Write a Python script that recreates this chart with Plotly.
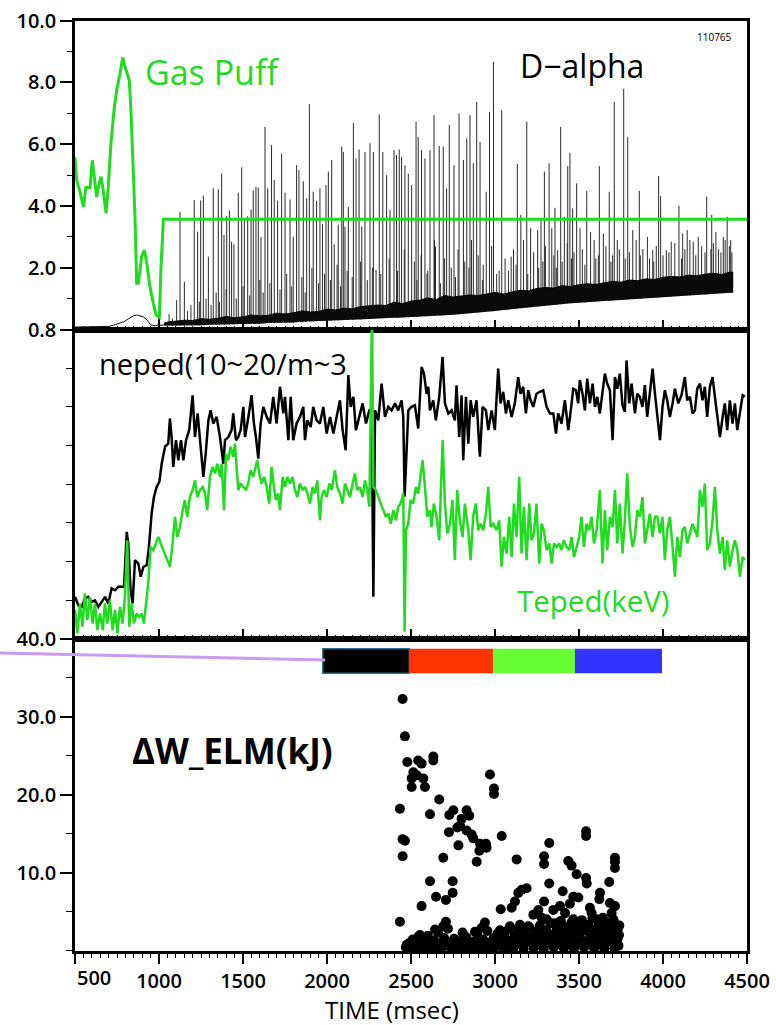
import plotly.graph_objects as go

# ---------------- DATA ----------------
# Panel 1: gas puff (green)
gas_t = [500, 510, 530, 550, 565, 590, 603, 615, 629, 639, 655, 668, 685, 698, 714, 732, 748, 768, 784, 798, 814, 823, 833, 847, 857, 867, 877, 897, 913, 927, 946, 966, 983, 1002, 1012, 1026, 4500]
gas_v = [5.58, 4.84, 4.45, 3.97, 4.6, 4.6, 5.48, 4.95, 4.3, 4.62, 4.95, 4.51, 3.76, 4.62, 6.03, 7.1, 7.75, 8.29, 8.81, 8.5, 8.2, 8.07, 7.1, 5.27, 3.65, 1.5, 1.5, 2.36, 2.57, 2.14, 1.39, 0.85, 0.47, 0.41, 2.03, 3.57, 3.57]

# D-alpha before the ELMs
dpre_t = [500, 600, 700, 730, 760, 790, 820, 850, 870, 890, 910, 930, 950, 980, 995, 1000, 1005, 1030]
dpre_v = [0.08, 0.1, 0.1, 0.14, 0.2, 0.25, 0.35, 0.45, 0.47, 0.44, 0.4, 0.3, 0.15, 0.12, 0.15, 0.42, 0.13, 0.15]

# D-alpha noisy baseline band (lower / upper edge)
band_t = [1030, 1050, 1100, 1150, 1200, 1250, 1300, 1350, 1400, 1450, 1500, 1550, 1600, 1650, 1700, 1750, 1800, 1850, 1900, 1950,
          2000, 2050, 2100, 2150, 2200, 2250, 2300, 2350, 2400, 2450, 2500, 2550, 2600, 2650, 2700, 2750, 2800, 2850, 2900, 2950,
          3000, 3050, 3100, 3150, 3200, 3250, 3300, 3350, 3400, 3450, 3500, 3550, 3600, 3650, 3700, 3750, 3800, 3850, 3900, 3950,
          4000, 4050, 4100, 4150, 4200, 4250, 4300, 4350, 4400, 4418]
band_lo = [0.12, 0.12, 0.13, 0.12, 0.14, 0.14, 0.15, 0.15, 0.16, 0.17, 0.18, 0.18, 0.19, 0.21, 0.21, 0.22, 0.23, 0.25, 0.26, 0.26,
           0.28, 0.29, 0.30, 0.32, 0.33, 0.34, 0.36, 0.36, 0.38, 0.39, 0.40, 0.42, 0.43, 0.44, 0.46, 0.48, 0.50, 0.52, 0.55, 0.57,
           0.60, 0.63, 0.66, 0.69, 0.72, 0.75, 0.78, 0.80, 0.83, 0.85, 0.87, 0.88, 0.90, 0.92, 0.94, 0.96, 0.98, 1.00, 1.02, 1.03,
           1.05, 1.06, 1.08, 1.10, 1.12, 1.13, 1.15, 1.16, 1.18, 1.20]
band_hi = [0.20, 0.24, 0.27, 0.30, 0.29, 0.35, 0.33, 0.36, 0.42, 0.38, 0.41, 0.47, 0.44, 0.46, 0.53, 0.50, 0.54, 0.60, 0.57, 0.58,
           0.66, 0.63, 0.69, 0.67, 0.74, 0.76, 0.79, 0.78, 0.88, 0.84, 0.92, 0.95, 1.02, 0.97, 1.10, 1.05, 1.08, 1.12, 1.10, 1.16,
           1.20, 1.15, 1.22, 1.27, 1.25, 1.33, 1.36, 1.34, 1.42, 1.39, 1.45, 1.48, 1.46, 1.52, 1.56, 1.53, 1.60, 1.58, 1.64, 1.62,
           1.69, 1.72, 1.70, 1.76, 1.74, 1.79, 1.82, 1.78, 1.86, 1.85]

# D-alpha ELM spikes (time, peak)
spike_t = [1105, 1125, 1151, 1210, 1230, 1248, 1264, 1294, 1323, 1353, 1373, 1387, 1403, 1419, 1432, 1446, 1472, 1492, 1508, 1528,
           1548, 1561, 1577, 1591, 1607, 1631, 1647, 1670, 1686, 1706, 1730, 1750, 1780, 1799, 1819, 1833, 1859, 1879, 1895, 1918,
           1938, 1958, 1973, 1994, 2008, 2028, 2043, 2067, 2088, 2097, 2107, 2127, 2157, 2173, 2191, 2207, 2226, 2256, 2276, 2292,
           2311, 2332, 2355, 2375, 2399, 2414, 2430, 2444, 2464, 2484, 2504, 2530, 2543, 2563, 2583, 2613, 2637, 2646, 2668, 2692,
           2712, 2728, 2756, 2786, 2812, 2832, 2851, 2871, 2891, 2911, 2948, 2967, 2991, 3040, 3096, 3133, 3154, 3189, 3212, 3254,
           3274, 3294, 3322, 3338, 3357, 3373, 3391, 3413, 3433, 3446, 3462, 3486, 3506, 3546, 3569, 3621, 3645, 3680, 3710, 3728,
           3766, 3790, 3820, 3859, 3907, 3939, 3974, 3986, 4020, 4049, 4095, 4117, 4144, 4180, 4210, 4260, 4290, 4315, 4359, 4382, 4403]
spike_v = [0.95, 3.81, 1.55, 4.19, 3.17, 4.18, 4.34, 2.36, 4.57, 4.54, 5.05, 3.06, 3.67, 3.85, 2.84, 2.76, 4.43, 5.25, 3.54, 3.67,
           3.89, 4.51, 4.62, 4.59, 3.0, 6.56, 4.57, 5.97, 4.84, 4.17, 5.70, 4.43, 4.21, 3.0, 5.32, 5.16, 4.8, 4.25, 7.3, 4.46,
           4.17, 4.57, 3.41, 4.68, 5.11, 5.49, 2.76, 3.4, 5.92, 5.75, 3.33, 3.97, 6.69, 5.54, 5.83, 3.33, 5.75, 6.03, 5.75, 1.93,
           6.97, 5.75, 5.0, 3.87, 5.81, 5.65, 5.83, 5.59, 5.32, 5.05, 4.68, 6.73, 6.24, 5.81, 5.54, 5.81, 6.94, 2.68, 5.94, 5.92,
           4.57, 6.62, 5.32, 7.0, 5.49, 6.19, 6.94, 5.38, 7.37, 6.08, 4.46, 7.05, 8.67, 7.1, 2.36, 5.36, 3.71, 6.73, 3.28, 3.22,
           3.54, 5.11, 5.38, 3.28, 3.94, 2.57, 6.56, 3.65, 5.29, 5.72, 3.92, 4.73, 3.28, 4.49, 3.16, 5.29, 3.11, 4.46, 7.37, 2.9,
           7.8, 6.24, 3.22, 4.49, 3.0, 2.57, 4.97, 4.32, 2.57, 2.84, 4.01, 3.11, 3.22, 2.84, 3.0, 4.3, 3.71, 3.16, 3.0, 3.65, 2.9]
# smaller D-alpha bursts
small_t = [1060, 1080, 1170, 1190, 1240, 1280, 1310, 1340, 1360, 1400, 1460, 1500, 1540, 1600, 1620, 1660, 1720, 1760, 1790, 1850,
           1870, 1910, 1950, 1985, 2020, 2060, 2080, 2120, 2150, 2200, 2240, 2270, 2320, 2370, 2420, 2460, 2520, 2560, 2600, 2640,
           2700, 2740, 2780, 2820, 2860, 2900, 2930, 2980, 3010, 3060, 3080, 3110, 3170, 3230, 3260, 3300, 3350, 3400, 3430, 3470,
           3520, 3590, 3600, 3660, 3700, 3740, 3800, 3840, 3880, 3920, 3960, 4000, 4070, 4130, 4160, 4230, 4250, 4300, 4330, 4370, 4395, 4410,
           2535, 2595, 2675, 2765, 2845, 2925, 3025, 3125, 3195, 3285, 3365, 3455, 3535, 3615, 3690, 3775, 3865, 3945, 4035, 4110, 4195, 4285, 4345]
small_v = [0.5, 0.35, 0.6, 0.8, 0.9, 1.0, 0.8, 1.2, 0.9, 1.3, 1.0, 1.4, 1.1, 1.6, 1.2, 1.5, 1.3, 1.8, 1.4, 1.7,
           1.2, 2.0, 1.5, 1.8, 1.6, 2.1, 1.4, 1.9, 1.7, 2.2, 1.6, 2.0, 1.8, 2.3, 1.9, 2.6, 2.2, 2.4, 1.9, 2.9,
           2.3, 2.0, 2.6, 2.2, 2.9, 2.4, 2.1, 2.7, 1.8, 2.3, 1.9, 2.6, 2.9, 2.5, 2.0, 2.7, 2.4, 2.2, 2.8, 2.5,
           2.6, 2.9, 2.3, 2.7, 2.4, 2.6, 2.5, 2.9, 2.6, 2.3, 2.7, 2.4, 2.8, 2.6, 2.9, 2.7, 2.5, 2.8, 2.6, 2.9, 2.7, 2.5,
           1.6, 1.8, 1.5, 1.7, 2.0, 1.6, 1.9, 2.1, 1.8, 2.2, 2.0, 2.3, 2.1, 2.4, 2.2, 2.3, 2.4, 2.2, 2.5, 2.3, 2.4, 2.6, 2.5]

# Panel 2: neped (black) and Teped (green)
neped_t = [500, 520, 540, 559, 579, 599, 619, 639, 659, 679, 698, 718, 738, 758, 778, 792, 808, 817, 831, 843, 857, 877, 891, 907, 927,
           940, 956, 970, 986, 1002, 1016, 1036, 1055, 1065, 1075, 1085, 1101, 1115, 1131, 1145, 1161, 1180, 1200, 1214, 1230, 1244,
           1264, 1278, 1294, 1307, 1323, 1343, 1363, 1383, 1393, 1413, 1432, 1442, 1458, 1472, 1486, 1502, 1512, 1532, 1551, 1565,
           1577, 1591, 1605, 1621, 1641, 1661, 1680, 1700, 1720, 1740, 1750, 1770, 1784, 1799, 1819, 1839, 1859, 1869, 1883, 1903,
           1918, 1938, 1958, 1978, 1998, 2018, 2038, 2057, 2077, 2093, 2111, 2127, 2141, 2157, 2172, 2192, 2212, 2232, 2252, 2266,
           2276, 2286, 2305, 2325, 2345, 2365, 2385, 2405, 2424, 2444, 2454, 2462, 2484, 2503, 2523, 2543, 2563, 2577, 2593, 2603,
           2613, 2632, 2648, 2668, 2688, 2702, 2722, 2742, 2761, 2771, 2787, 2801, 2811, 2827, 2841, 2855, 2870, 2890, 2910, 2926,
           2946, 2960, 2980, 2999, 3019, 3033, 3049, 3065, 3079, 3099, 3118, 3138, 3152, 3168, 3184, 3198, 3212, 3228, 3247, 3267,
           3287, 3307, 3327, 3347, 3363, 3376, 3396, 3416, 3436, 3450, 3466, 3482, 3495, 3505, 3521, 3535, 3549, 3565, 3581, 3595,
           3609, 3624, 3640, 3654, 3668, 3684, 3700, 3714, 3728, 3743, 3759, 3773, 3783, 3799, 3813, 3833, 3847, 3862, 3878, 3892,
           3906, 3922, 3938, 3952, 3966, 3982, 3997, 4011, 4025, 4041, 4057, 4071, 4091, 4110, 4130, 4144, 4160, 4176, 4190, 4204,
           4220, 4235, 4249, 4263, 4279, 4295, 4309, 4323, 4339, 4355, 4368, 4382, 4398, 4414, 4428, 4442, 4458, 4474, 4487]
neped_v = [0.109, 0.087, 0.083, 0.105, 0.109, 0.096, 0.100, 0.083, 0.096, 0.109, 0.092, 0.131, 0.126, 0.135, 0.135, 0.135, 0.277, 0.247, 0.126, 0.092, 0.204, 0.195, 0.161, 0.186, 0.191,
           0.238, 0.324, 0.367, 0.393, 0.406, 0.453, 0.497, 0.505, 0.570, 0.522, 0.445, 0.514, 0.462, 0.514, 0.462, 0.514, 0.540, 0.630, 0.522, 0.583, 0.522,
           0.419, 0.479, 0.565, 0.591, 0.557, 0.574, 0.522, 0.453, 0.514, 0.522, 0.540, 0.583, 0.514, 0.522, 0.540, 0.600, 0.522, 0.574, 0.630, 0.557,
           0.522, 0.466, 0.557, 0.600, 0.574, 0.557, 0.626, 0.557, 0.652, 0.583, 0.626, 0.514, 0.626, 0.514, 0.557, 0.574, 0.600, 0.514, 0.565, 0.548,
           0.600, 0.565, 0.557, 0.600, 0.531, 0.574, 0.531, 0.574, 0.617, 0.540, 0.488, 0.682, 0.600, 0.626, 0.540, 0.574, 0.609, 0.557, 0.591, 0.595,
           0.109, 0.591, 0.565, 0.660, 0.574, 0.600, 0.591, 0.609, 0.591, 0.617, 0.574, 0.368, 0.591, 0.600, 0.604, 0.544, 0.703, 0.686, 0.634, 0.652,
           0.591, 0.617, 0.565, 0.626, 0.729, 0.609, 0.583, 0.591, 0.565, 0.656, 0.522, 0.630, 0.462, 0.626, 0.505, 0.617, 0.574, 0.617, 0.471, 0.600,
           0.591, 0.540, 0.591, 0.540, 0.699, 0.609, 0.639, 0.583, 0.617, 0.574, 0.609, 0.677, 0.634, 0.652, 0.583, 0.643, 0.617, 0.600, 0.634, 0.639,
           0.643, 0.600, 0.583, 0.583, 0.531, 0.583, 0.557, 0.617, 0.540, 0.587, 0.647, 0.643, 0.609, 0.669, 0.634, 0.591, 0.673, 0.609, 0.660, 0.600,
           0.626, 0.583, 0.634, 0.686, 0.660, 0.643, 0.514, 0.677, 0.647, 0.686, 0.604, 0.587, 0.720, 0.609, 0.660, 0.583, 0.634, 0.626, 0.600, 0.656,
           0.574, 0.643, 0.699, 0.634, 0.583, 0.514, 0.600, 0.643, 0.617, 0.574, 0.609, 0.647, 0.609, 0.630, 0.677, 0.617, 0.626, 0.583, 0.591, 0.647,
           0.660, 0.617, 0.652, 0.574, 0.652, 0.677, 0.626, 0.574, 0.522, 0.574, 0.609, 0.540, 0.617, 0.557, 0.609, 0.540, 0.591, 0.630, 0.626]

teped_t = [500, 514, 530, 545, 559, 573, 589, 605, 619, 633, 649, 665, 678, 692, 708, 724, 738, 752, 768, 783, 797, 811, 823, 837, 851,
           867, 883, 897, 910, 922, 936, 950, 966, 982, 996, 1010, 1026, 1045, 1065, 1081, 1095, 1109, 1125, 1141, 1154, 1168, 1184,
           1200, 1214, 1228, 1244, 1260, 1274, 1287, 1303, 1319, 1333, 1347, 1363, 1373, 1387, 1399, 1412, 1426, 1442, 1452, 1462,
           1472, 1486, 1502, 1518, 1531, 1545, 1561, 1571, 1585, 1597, 1611, 1625, 1641, 1656, 1670, 1684, 1696, 1710, 1720, 1736,
           1750, 1764, 1780, 1795, 1809, 1823, 1839, 1855, 1869, 1883, 1899, 1914, 1928, 1942, 1958, 1968, 1982, 1998, 2014, 2028,
           2047, 2061, 2077, 2093, 2107, 2121, 2137, 2153, 2166, 2180, 2196, 2212, 2226, 2240, 2252, 2268, 2276, 2291, 2305, 2319,
           2335, 2351, 2365, 2379, 2395, 2410, 2424, 2438, 2454, 2462, 2470, 2484, 2497, 2513, 2529, 2543, 2557, 2569, 2583, 2597,
           2613, 2622, 2636, 2652, 2668, 2688, 2702, 2716, 2732, 2747, 2761, 2775, 2791, 2807, 2821, 2841, 2855, 2870, 2886, 2900,
           2914, 2930, 2946, 2960, 2974, 2990, 3009, 3025, 3039, 3053, 3069, 3085, 3099, 3113, 3128, 3144, 3158, 3172, 3188, 3204,
           3218, 3232, 3247, 3263, 3277, 3291, 3307, 3323, 3337, 3351, 3367, 3382, 3396, 3410, 3426, 3442, 3456, 3470, 3486, 3501,
           3515, 3529, 3545, 3561, 3575, 3589, 3605, 3624, 3640, 3654, 3668, 3684, 3700, 3714, 3728, 3743, 3759, 3773, 3787, 3803,
           3819, 3833, 3847, 3862, 3878, 3892, 3906, 3922, 3938, 3952, 3966, 3982, 3997, 4011, 4025, 4041, 4057, 4071, 4085, 4101,
           4116, 4130, 4144, 4160, 4176, 4190, 4204, 4220, 4235, 4249, 4263, 4279, 4295, 4309, 4323, 4339, 4355, 4368, 4382, 4398,
           4414, 4428, 4442, 4458, 4474, 4487]
teped_v = [0.075, 0.015, 0.092, 0.032, 0.118, 0.049, 0.109, 0.040, 0.092, 0.023, 0.066, 0.023, 0.092, 0.040, 0.100, 0.023, 0.075, 0.015, 0.083, 0.040, 0.109, 0.255, 0.032, 0.092, 0.040,
           0.066, 0.057, 0.066, 0.040, 0.092, 0.143, 0.238, 0.230, 0.247, 0.264, 0.247, 0.230, 0.212, 0.187, 0.247, 0.316, 0.264, 0.290, 0.333, 0.359, 0.316, 0.367,
           0.385, 0.410, 0.367, 0.385, 0.393, 0.376, 0.333, 0.419, 0.445, 0.428, 0.453, 0.419, 0.453, 0.333, 0.479, 0.462, 0.497, 0.471, 0.505, 0.428,
           0.385, 0.402, 0.393, 0.385, 0.402, 0.436, 0.419, 0.436, 0.462, 0.428, 0.402, 0.419, 0.393, 0.350, 0.445, 0.393, 0.359, 0.376, 0.333, 0.419,
           0.393, 0.419, 0.402, 0.419, 0.385, 0.367, 0.402, 0.385, 0.393, 0.376, 0.350, 0.393, 0.376, 0.410, 0.307, 0.367, 0.385, 0.367, 0.402, 0.385,
           0.436, 0.393, 0.376, 0.350, 0.402, 0.385, 0.367, 0.402, 0.428, 0.385, 0.393, 0.367, 0.410, 0.385, 0.342, 0.850, 0.393, 0.385, 0.367, 0.350,
           0.333, 0.316, 0.324, 0.298, 0.333, 0.307, 0.342, 0.350, 0.376, 0.019, 0.281, 0.298, 0.359, 0.350, 0.393, 0.376, 0.419, 0.462, 0.393, 0.316,
           0.333, 0.290, 0.350, 0.316, 0.255, 0.514, 0.350, 0.273, 0.298, 0.359, 0.204, 0.385, 0.307, 0.264, 0.350, 0.281, 0.204, 0.316, 0.350, 0.281,
           0.298, 0.281, 0.324, 0.393, 0.290, 0.298, 0.281, 0.307, 0.187, 0.264, 0.221, 0.316, 0.212, 0.350, 0.264, 0.419, 0.221, 0.342, 0.204, 0.350,
           0.255, 0.273, 0.350, 0.195, 0.298, 0.281, 0.230, 0.247, 0.195, 0.247, 0.238, 0.247, 0.230, 0.255, 0.238, 0.230, 0.264, 0.212, 0.238, 0.264,
           0.316, 0.238, 0.298, 0.281, 0.316, 0.247, 0.281, 0.385, 0.195, 0.333, 0.230, 0.316, 0.290, 0.385, 0.247, 0.350, 0.221, 0.307, 0.428, 0.290,
           0.238, 0.264, 0.333, 0.316, 0.367, 0.247, 0.281, 0.324, 0.264, 0.316, 0.316, 0.273, 0.316, 0.204, 0.281, 0.316, 0.238, 0.161, 0.264, 0.212,
           0.281, 0.290, 0.247, 0.273, 0.298, 0.281, 0.264, 0.385, 0.342, 0.402, 0.230, 0.247, 0.307, 0.393, 0.281, 0.221, 0.264, 0.178, 0.255, 0.187,
           0.230, 0.255, 0.230, 0.161, 0.212, 0.204]

# Panel 3: Delta W_ELM (kJ)
elm_t = [2450, 2464, 2478, 2543, 2563, 2514, 2534, 2504, 2504, 2573, 2583, 2633, 2633, 2434, 2450, 2464, 2450, 2668, 2613, 2728,
         2752, 2831, 2847, 2801, 2792, 2776, 2726, 2831, 2861, 2871, 2782, 2911, 2946, 2907, 2950, 2891, 2692, 2970, 2994, 2994,
         3040, 3129, 3323, 3542, 3542, 3292, 3292, 3436, 3456, 3486, 3542, 3546, 3714, 3714, 3714, 3680, 3323, 3403, 2613, 2748,
         2748, 2649, 2708, 2563, 2434, 3159, 3188, 3139, 3119, 3099, 3034, 3292, 3466, 3496, 3446, 3625, 3621, 3565, 3575, 3684,
         3714, 3694, 3258, 3278, 3228, 3347, 3387, 3417, 2708, 2692, 2940, 2920, 2807, 2881, 2643, 2553, 2504, 2474, 3030, 3089,
         3149, 3198, 3307, 3357, 3466, 3526, 3605, 3654, 3704, 3733,
         2470, 2485, 2495, 2510, 2520, 2530, 2545, 2555, 2565, 2580, 2590, 2600, 2612, 2625, 2637, 2650, 2660, 2672, 2685, 2697,
         2710, 2720, 2733, 2745, 2757, 2770, 2782, 2795, 2805, 2818, 2830, 2843, 2855, 2868, 2880, 2893, 2905, 2918, 2930, 2943,
         2955, 2968, 2980, 2992, 3005, 3017, 3030, 3042, 3055, 3067, 3080, 3092, 3105, 3117, 3130, 3142, 3155, 3167, 3180, 3192,
         3205, 3217, 3230, 3242, 3255, 3267, 3280, 3292, 3305, 3317, 3330, 3342, 3355, 3367, 3380, 3392, 3405, 3417, 3430, 3442,
         3455, 3467, 3480, 3492, 3505, 3517, 3530, 3542, 3555, 3567, 3580, 3592, 3605, 3617, 3630, 3642, 3655, 3667, 3680, 3692,
         3705, 3717, 3730, 3740,
         2480, 2540, 2600, 2660, 2740, 2800, 2860, 2920, 2990, 3050, 3110, 3170, 3230, 3290, 3350, 3410, 3470, 3530, 3590, 3650,
         3710, 3735, 3320, 3380, 3440, 3500, 3560, 3620, 3680, 3725, 3310, 3370, 3430, 3490, 3550, 3610, 3670, 3720, 3260, 3200,
         3000, 3070, 3140, 3210, 3275, 3335, 3395, 3460, 3515, 3575, 3635, 3695, 3738, 3012, 3085, 3160, 3240, 3300, 3362, 3425,
         3485, 3545, 3600, 3660, 3715, 2560, 2620, 2690, 2760, 2835, 2900, 2960]
elm_w = [32.3, 27.5, 24.2, 24.4, 24.0, 22.9, 22.5, 22.1, 21.0, 22.1, 21.0, 24.9, 24.4, 18.2, 14.3, 14.1, 12.1, 19.4, 17.5, 17.4,
         18.0, 18.0, 17.3, 16.9, 16.0, 15.8, 15.2, 15.4, 14.9, 14.4, 13.5, 13.7, 13.7, 12.8, 13.2, 11.4, 11.9, 22.6, 20.8, 20.1,
         14.7, 11.7, 13.8, 15.3, 14.7, 12.1, 11.1, 11.5, 10.9, 9.8, 9.3, 8.6, 11.9, 11.4, 10.6, 8.8, 8.6, 7.6, 8.9, 8.9,
         7.4, 6.9, 6.5, 5.7, 3.7, 7.8, 8.0, 7.4, 6.3, 5.5, 5.3, 6.3, 6.9, 6.8, 6.0, 7.4, 6.6, 5.5, 4.8, 6.1,
         5.7, 4.8, 5.2, 4.2, 4.6, 5.2, 5.7, 4.8, 3.7, 3.1, 3.6, 2.9, 2.3, 2.4, 2.7, 2.0, 1.1, 0.7, 2.6, 3.1,
         3.3, 3.1, 4.0, 3.5, 4.0, 3.3, 4.0, 3.5, 4.0, 2.9,
         0.4, 0.9, 0.3, 1.4, 0.6, 0.2, 1.8, 0.8, 0.4, 1.2, 0.5, 1.9, 0.7, 0.3, 1.3, 0.6, 2.3, 0.9, 0.4, 1.6,
         0.7, 2.8, 1.1, 0.4, 1.5, 0.6, 0.3, 1.2, 0.8, 0.4, 1.7, 0.6, 0.3, 1.1, 0.5, 2.1, 0.9, 0.4, 1.4, 0.7,
         2.5, 1.0, 0.4, 1.6, 0.8, 2.2, 1.2, 0.5, 1.9, 0.9, 2.7, 1.3, 0.6, 2.0, 1.0, 2.9, 1.5, 0.6, 2.3, 1.1,
         3.0, 1.7, 0.7, 2.4, 1.2, 3.2, 1.9, 0.8, 2.6, 1.4, 3.5, 2.0, 0.9, 2.8, 1.5, 3.8, 2.2, 1.0, 3.0, 1.7,
         3.6, 2.4, 1.1, 3.1, 1.8, 3.9, 2.6, 1.2, 3.3, 2.0, 4.1, 2.7, 1.3, 3.4, 2.1, 4.2, 2.9, 1.4, 3.6, 2.3,
         3.9, 2.5, 1.5, 3.2,
         0.2, 0.3, 0.2, 0.4, 0.2, 0.3, 0.2, 0.3, 0.2, 0.3, 0.3, 0.2, 0.3, 0.2, 0.4, 0.3, 0.2, 0.4, 0.3, 0.2,
         0.3, 0.6, 1.0, 1.3, 0.8, 1.6, 1.1, 0.9, 1.4, 1.8, 2.3, 2.6, 2.1, 2.4, 2.8, 1.9, 2.5, 1.0, 2.1, 1.6,
         1.5, 0.9, 1.7, 1.2, 2.0, 1.4, 2.6, 1.9, 2.9, 2.2, 3.1, 2.7, 2.0, 0.6, 0.5, 0.8, 0.6, 1.0, 0.7, 0.9,
         0.8, 1.1, 0.9, 1.0, 0.8, 0.5, 0.4, 0.6, 0.5, 0.7, 0.6, 0.5]

# Phase bar (top of panel 3)
phase_start = [1975, 2490, 2988, 3476]
phase_end = [2490, 2988, 3476, 3994]
phase_color = ["#000000", "#ff3300", "#66ff33", "#3333ff"]

x_ticks = [500, 1000, 1500, 2000, 2500, 3000, 3500, 4000, 4500]

# ---------------- FIGURE ----------------
GREEN = "#1fdc1f"
FONT = "Open Sans"
W, H = 776, 1025


def px(x):
    return x / W


def py(y):
    return 1 - y / H


fig = go.Figure()

# D-alpha spikes (drawn from zero; their feet are hidden under the baseline band)
sx, sy = [], []
for t, v in zip(spike_t + small_t, spike_v + small_v):
    sx += [t, t, None]
    sy += [0, v, None]
fig.add_trace(go.Scatter(x=sx, y=sy, mode="lines", line=dict(color="#2a2a2a", width=1),
                         xaxis="x", yaxis="y", hoverinfo="skip", showlegend=False))
fig.add_trace(go.Scatter(x=band_t, y=band_lo, mode="lines", line=dict(width=0, color="white"),
                         fill="tozeroy", fillcolor="white", xaxis="x", yaxis="y", showlegend=False))
fig.add_trace(go.Scatter(x=band_t, y=band_hi, mode="lines", line=dict(width=1, color="black"),
                         fill="tonexty", fillcolor="#0a0a0a", xaxis="x", yaxis="y", showlegend=False))
fig.add_trace(go.Scatter(x=dpre_t, y=dpre_v, mode="lines", line=dict(color="#111111", width=1),
                         xaxis="x", yaxis="y", showlegend=False))
fig.add_trace(go.Scatter(x=gas_t, y=gas_v, mode="lines", line=dict(color=GREEN, width=3),
                         xaxis="x", yaxis="y", showlegend=False))

# Panel 2
fig.add_trace(go.Scatter(x=neped_t, y=neped_v, mode="lines", line=dict(color="black", width=2.5),
                         xaxis="x2", yaxis="y2", showlegend=False))
fig.add_trace(go.Scatter(x=teped_t, y=teped_v, mode="lines", line=dict(color=GREEN, width=2.5),
                         xaxis="x2", yaxis="y2", showlegend=False))

# Panel 3
fig.add_trace(go.Scatter(x=elm_t, y=elm_w, mode="markers", marker=dict(color="black", size=10),
                         xaxis="x3", yaxis="y3", showlegend=False, cliponaxis=False))

XD = [px(75), px(747)]
D1 = [py(329.5), py(20.7)]
D2 = [py(639), py(329.5)]
D3 = [py(950.5), py(639)]

tickfont = dict(family=FONT, size=20, color="black", weight=600)
axline = dict(showline=True, linecolor="black", linewidth=2.5, mirror=True, showgrid=False, zeroline=False,
              automargin=False)

xin = dict(range=[500, 4500], domain=XD, ticks="inside", tickvals=x_ticks, ticklen=10, tickwidth=1.5,
           tickcolor="black", showticklabels=False,
           minor=dict(ticks="inside", dtick=50, tick0=500, ticklen=4, tickwidth=1, tickcolor="black"), **axline)

fig.update_layout(
    width=W, height=H, margin=dict(l=0, r=0, t=0, b=0, autoexpand=False),
    paper_bgcolor="white", plot_bgcolor="white", showlegend=False,
    xaxis=dict(anchor="y", **xin),
    xaxis2=dict(anchor="y2", **xin),
    xaxis3=dict(anchor="y3", range=[500, 4500], domain=XD, ticks="outside", tickvals=x_ticks,
                ticktext=[""] + [str(v) for v in x_ticks[1:]], ticklen=11, tickwidth=1.5, tickcolor="black",
                tickfont=tickfont,
                minor=dict(ticks="outside", dtick=50, tick0=500, ticklen=5, tickwidth=1, tickcolor="black"),
                **axline),
    yaxis=dict(anchor="x", domain=D1, range=[0, 10], ticks="outside", tickvals=[2, 4, 6, 8, 10],
               ticktext=["2.0", "4.0", "6.0", "8.0", "10.0"], ticklen=12, tickwidth=1.5, tickcolor="black",
               tickfont=tickfont,
               minor=dict(ticks="outside", dtick=1, ticklen=5, tickwidth=1, tickcolor="black"), **axline),
    yaxis2=dict(anchor="x2", domain=D2, range=[0, 0.8], ticks="outside", tickvals=[0.8], ticktext=["0.8"],
                ticklen=12, tickwidth=1.5, tickcolor="black", tickfont=tickfont,
                minor=dict(ticks="outside", tickvals=[0.1, 0.2, 0.3, 0.4, 0.5, 0.6, 0.7], ticklen=6, tickwidth=1,
                           tickcolor="black"), **axline),
    yaxis3=dict(anchor="x3", domain=D3, range=[0, 40], ticks="outside", tickvals=[10, 20, 30, 40],
                ticktext=["10.0", "20.0", "30.0", "40.0"], ticklen=12, tickwidth=1.5, tickcolor="black",
                tickfont=tickfont,
                minor=dict(ticks="outside", dtick=5, ticklen=6, tickwidth=1, tickcolor="black"), **axline),
)

shapes = []
for s, e, c in zip(phase_start, phase_end, phase_color):
    shapes.append(dict(type="rect", xref="x3", yref="y3", x0=s, x1=e, y0=35.6, y1=38.75,
                       fillcolor=c, line=dict(width=1.5 if c == "#000000" else 0, color="#2a6a8a"), layer="above"))
shapes.append(dict(type="line", xref="paper", yref="paper", x0=0, y0=py(653), x1=px(325), y1=py(660),
                   line=dict(color="#c89cf2", width=3)))
fig.update_layout(shapes=shapes)

ann = [
    dict(text="Gas Puff", x=px(143), y=py(72), color=GREEN, size=34),
    dict(text="D\u2212alpha", x=px(518), y=py(65), color="black", size=32),
    dict(text="110765", x=px(695), y=py(37), color="black", size=10),
    dict(text="neped(10~20/m~3", x=px(97), y=py(363), color="black", size=29),
    dict(text="Teped(keV)", x=px(515), y=py(600), color=GREEN, size=29.5),
    dict(text="<b>\u0394W_ELM(kJ)</b>", x=px(130), y=py(750), color="black", size=35),
]
for a in ann:
    fig.add_annotation(text=a["text"], x=a["x"], y=a["y"], xref="paper", yref="paper", xanchor="left",
                       yanchor="middle", showarrow=False, font=dict(family=FONT, size=a["size"], color=a["color"]))
fig.add_annotation(text="500", x=500, xref="x3", y=py(977), yref="paper", xanchor="left", yanchor="middle",
                   showarrow=False, font=tickfont)
# x-axis title
fig.add_annotation(text="TIME (msec)", x=px(392), y=py(1009), xref="paper", yref="paper", xanchor="center",
                   yanchor="middle", showarrow=False, font=dict(family=FONT, size=24, color="black"))

fig.write_html("out.html")
